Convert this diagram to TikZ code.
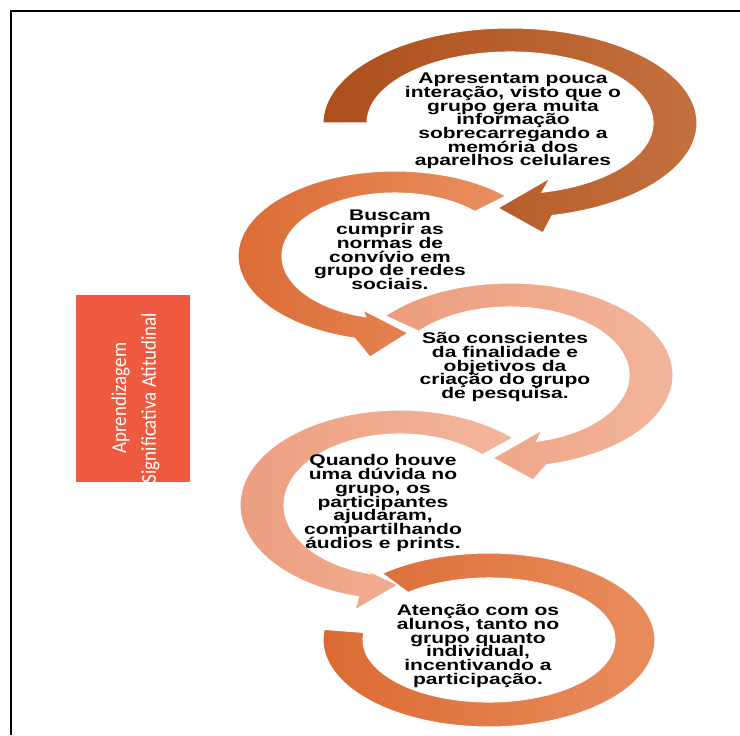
\documentclass[tikz,border=0pt]{standalone}
\usepackage{fontspec}
\setmainfont{Liberation Sans}
\newfontfamily\largo[FakeStretch=1.36]{Liberation Sans}
\newfontfamily\estreito[FakeStretch=0.9]{Carlito}
\usetikzlibrary{calc}

\definecolor{marromA}{HTML}{AB4F1B}
\definecolor{marromB}{HTML}{C4703F}
\definecolor{laranjaA}{HTML}{DA6A33}
\definecolor{laranjaB}{HTML}{EA8F60}
\definecolor{salmaoA}{HTML}{EC9D7E}
\definecolor{salmaoB}{HTML}{F3B79D}
\definecolor{caixa}{HTML}{EE5A40}

\begin{document}
\begin{tikzpicture}[x=0.02cm,y=0.02cm,
	texto/.style={align=center, text=black,
		font={\largo\bfseries\fontsize{8.8}{7.8}\selectfont\lineskiplimit -10pt\relax}},
	seta/.style={draw=white, line width=0.6pt}]

	\useasboundingbox (0,0) rectangle (740,735);
	\draw[line width=1.2pt] (11,0) -- (11,724) -- (740,724);

	% centros dos arcos
	\coordinate (c1) at (510,612);
	\coordinate (c2) at (395,479);
	\coordinate (c3) at (510,360);
	\coordinate (c4) at (400,230);
	\coordinate (c5) at (489,95);

	\shadedraw[seta, left color=laranjaA, right color=laranjaB]
		($(c5)+(130:166 and 87)$) arc[start angle=130, end angle=-187, x radius=166, y radius=87]
		-- ($(c5)+(-187:126 and 62)$) arc[start angle=-187, end angle=130, x radius=126, y radius=62] -- cycle;

	\shadedraw[seta, left color=salmaoA, right color=salmaoB]
		($(c4)+(45:160 and 95)$) arc[start angle=45, end angle=255, x radius=160, y radius=95]
		-- (355,125) -- (398,150) -- (352,172)
		-- ($(c4)+(255:116 and 71)$) arc[start angle=255, end angle=45, x radius=116, y radius=71] -- cycle;

	\shadedraw[seta, left color=salmaoA, right color=salmaoB]
		($(c3)+(140:163 and 92)$) arc[start angle=140, end angle=-77, x radius=163, y radius=92]
		-- (533,255) -- (493,277) -- (542,305)
		-- ($(c3)+(-77:119 and 68)$) arc[start angle=-77, end angle=140, x radius=119, y radius=68] -- cycle;

	\shadedraw[seta, left color=laranjaA, right color=laranjaB]
		($(c2)+(45:157 and 85)$) arc[start angle=45, end angle=255, x radius=157, y radius=85]
		-- (370,378) -- (408,402) -- (363,425)
		-- ($(c2)+(255:113 and 63)$) arc[start angle=255, end angle=45, x radius=113, y radius=63] -- cycle;

	\shadedraw[seta, left color=marromA, right color=marromB]
		($(c1)+(180:187 and 95)$) arc[start angle=180, end angle=-77, x radius=187, y radius=95]
		-- (543,502) -- (498,527) -- (550,557)
		-- ($(c1)+(-77:143 and 71)$) arc[start angle=-77, end angle=180, x radius=143, y radius=71] -- cycle;

	% textos
	\node[texto] (t1) at (513,614) {Apresentam pouca\\interação, visto que o\\grupo gera muita\\informação\\sobrecarregando a\\memória dos\\aparelhos celulares};
	\node[texto] (t2) at (390,485) {Buscam\\cumprir as\\normas de\\convívio em\\grupo de redes\\sociais.};
	\node[texto] (t3) at (505,368) {São conscientes\\da finalidade e\\objetivos da\\criação do grupo\\de pesquisa.};
	\node[texto] (t4) at (383,232) {Quando houve\\uma dúvida no\\grupo, os\\participantes\\ajudaram,\\compartilhando\\áudios e prints.};
	\node[texto] (t5) at (478,89) {Atenção com os\\alunos, tanto no\\grupo quanto\\individual,\\incentivando a\\participação.};

	\fill[caixa] (76,253) rectangle (190,440);
	\node[rotate=90, align=center, text=white, font=\estreito\fontsize{12}{17}\selectfont] (rotulo) at (135.5,337) {Aprendizagem\\Significativa Atitudinal};

\end{tikzpicture}
\end{document}
